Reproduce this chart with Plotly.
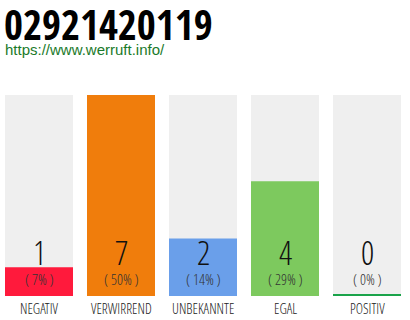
import plotly.graph_objects as go

title = "02921420119"
link = "https://www.werruft.info/"
categories = ["NEGATIV", "VERWIRREND", "UNBEKANNTE", "EGAL", "POSITIV"]
values = [1, 7, 2, 4, 0]
colors = ["#ff1a3c", "#f07d0c", "#6a9fea", "#7dc95e", "#1aa34a"]
bg_color = "#efefef"

total = sum(values)
maxv = max(values)
percents = [round(v * 100 / total) for v in values]

W, H = 410, 320
px_per_cat = 82
x0_px = 39
bottom_px = 296
top_px = 95
unit = (bottom_px - top_px) / maxv  # px per value


def ydat(py):
    return (bottom_px - py) / unit


x_range = [-x0_px / px_per_cat, (W - x0_px) / px_per_cat]
y_range = [ydat(H), ydat(0)]

xs = list(range(len(categories)))
bw = 68 / px_per_cat

fig = go.Figure()
fig.add_trace(go.Bar(x=xs, y=[maxv] * len(xs), width=bw,
                     marker=dict(color=bg_color, line=dict(width=0)), hoverinfo="skip"))
thin = 1.6 / unit
fig.add_trace(go.Bar(x=xs, y=[v if v > 0 else thin for v in values], width=bw,
                     marker=dict(color=colors, line=dict(width=0)), hoverinfo="skip"))

light = "Open Sans Condensed Light, Liberation Sans Narrow, sans-serif"
boldf = "Open Sans Condensed, sans-serif"
for i, (c, v, p) in enumerate(zip(categories, values, percents)):
    fig.add_annotation(x=i, y=ydat(252), text=str(v), showarrow=False,
                       font=dict(family=light, size=33, color="#111"), xanchor="center", yanchor="middle")
    fig.add_annotation(x=i, y=ydat(278.5), text=f"( {p}% )", showarrow=False,
                       font=dict(family=light, size=15, color="#333"), xanchor="center", yanchor="middle")
    fig.add_annotation(x=i, y=ydat(308), text=c, showarrow=False,
                       font=dict(family=light, size=14, color="#222"), xanchor="center", yanchor="middle")

fig.add_annotation(x=x_range[0] + 2 / px_per_cat, y=ydat(23.5), text=f"<b>{title}</b>", showarrow=False,
                   font=dict(family=boldf, size=41, color="#000", weight=700), xanchor="left", yanchor="middle")
fig.add_annotation(x=x_range[0] + 3 / px_per_cat, y=ydat(49), text=link, showarrow=False,
                   font=dict(family="Liberation Sans, Arial, sans-serif", size=15, color="#1a7a2a"),
                   xanchor="left", yanchor="middle")

fig.update_layout(
    width=W, height=H, margin=dict(l=0, r=0, t=0, b=0),
    paper_bgcolor="white", plot_bgcolor="white",
    barmode="overlay", showlegend=False,
    xaxis=dict(range=x_range, visible=False, fixedrange=True),
    yaxis=dict(range=y_range, visible=False, fixedrange=True),
)
fig.write_html("out.html")
